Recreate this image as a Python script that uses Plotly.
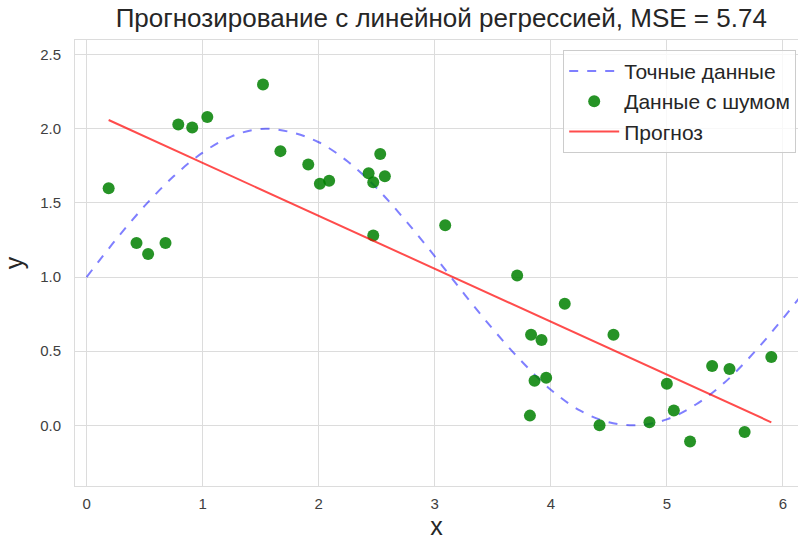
import plotly.graph_objects as go

# exact curve samples
true_x = [0, 0.25, 0.5, 0.75, 1.0, 1.25, 1.5, 1.75, 2.0, 2.25, 2.5, 2.75, 3.0, 3.25,
          3.5, 3.75, 4.0, 4.25, 4.5, 4.75, 5.0, 5.25, 5.5, 5.75, 6.0, 6.25]
true_y = [1.00, 1.25, 1.48, 1.68, 1.84, 1.95, 2.00, 1.98, 1.91, 1.78, 1.60, 1.38, 1.14,
          0.89, 0.65, 0.43, 0.24, 0.10, 0.02, 0.00, 0.04, 0.14, 0.29, 0.49, 0.72, 0.97]

# noisy data
noisy_x = [0.19, 0.43, 0.53, 0.68, 0.79, 0.91, 1.04, 1.52, 1.67, 1.91, 2.01, 2.09,
           2.43, 2.47, 2.53, 2.57, 2.47, 3.09, 3.71, 3.83, 3.92, 4.12, 4.54, 3.86,
           3.96, 3.82, 4.42, 4.85, 5.00, 5.06, 5.20, 5.39, 5.54, 5.67, 5.90]
noisy_y = [1.60, 1.23, 1.155, 1.23, 2.03, 2.01, 2.08, 2.30, 1.85, 1.76, 1.63, 1.65,
           1.70, 1.64, 1.83, 1.68, 1.28, 1.35, 1.01, 0.61, 0.575, 0.82, 0.61, 0.30,
           0.32, 0.065, 0.00, 0.02, 0.28, 0.10, -0.11, 0.40, 0.38, -0.045, 0.46]

# regression prediction
pred_x = [0.19, 5.90]
pred_y = [2.06, 0.02]

title_text = "Прогнозирование с линейной регрессией, MSE = 5.74"

fig = go.Figure()
fig.add_trace(go.Scatter(x=true_x, y=true_y, mode="lines", name="Точные данные",
                         line=dict(color="rgba(0,0,255,0.5)", width=2, dash="dash", shape="spline")))
fig.add_trace(go.Scatter(x=noisy_x, y=noisy_y, mode="markers", name="Данные с шумом",
                         marker=dict(color="rgba(0,128,0,0.85)", size=12, line=dict(width=0))))
fig.add_trace(go.Scatter(x=pred_x, y=pred_y, mode="lines", name="Прогноз",
                         line=dict(color="rgba(255,0,0,0.7)", width=2)))

grid = "#dcdcdc"
fig.update_layout(
    width=798, height=540,
    margin=dict(l=75, r=0, t=40, b=54),
    paper_bgcolor="white", plot_bgcolor="white",
    font=dict(family="Liberation Sans, Arial, sans-serif", color="#262626"),
    title=dict(text=title_text, x=0.553, xanchor="center", y=0.966, yanchor="middle",
               font=dict(size=26, color="#262626")),
    showlegend=True,
    legend=dict(x=0.9975, y=0.978, xanchor="right", yanchor="top",
                bgcolor="rgba(255,255,255,0.8)", bordercolor="#cccccc", borderwidth=1,
                font=dict(size=21, color="#262626"), itemwidth=50, tracegroupgap=0),
    xaxis=dict(range=[-0.1, 6.13], tickvals=[0, 1, 2, 3, 4, 5, 6], showgrid=True,
               gridcolor=grid, gridwidth=1, zeroline=False, showline=True, linecolor=grid,
               mirror=True, ticks="", tickfont=dict(size=15, color="#404040"),
               ticklabelstandoff=4,
               title=dict(text="x", font=dict(size=25, color="#262626"), standoff=6)),
    yaxis=dict(range=[-0.41, 2.6], tickvals=[0, 0.5, 1.0, 1.5, 2.0, 2.5],
               ticktext=["0.0", "0.5", "1.0", "1.5", "2.0", "2.5"], showgrid=True,
               gridcolor=grid, gridwidth=1, zeroline=False, showline=True, linecolor=grid,
               mirror=True, ticks="", tickfont=dict(size=15, color="#404040"),
               ticklabelstandoff=10,
               title=dict(text="y", font=dict(size=25, color="#262626"), standoff=10)),
)

fig.write_html("out.html")
